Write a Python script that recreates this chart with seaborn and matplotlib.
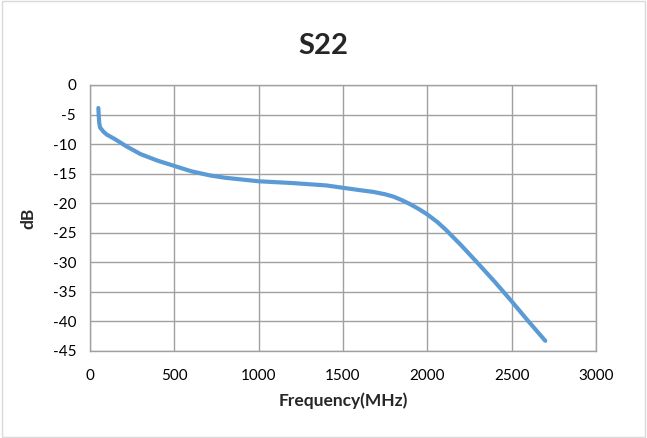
import matplotlib
matplotlib.use("Agg")
import matplotlib.pyplot as plt
import seaborn as sns
import pandas as pd
from matplotlib.patches import Rectangle

freq_mhz = [50, 52, 55, 60, 80, 100, 150, 217, 300, 400, 500, 600, 710, 800,
            1000, 1200, 1400, 1500, 1600, 1680, 1750, 1800, 1850, 1900, 1950,
            2000, 2060, 2110, 2200, 2288, 2400, 2500, 2600, 2700]
s22_db = [-3.9, -5.0, -6.4, -7.2, -7.9, -8.4, -9.2, -10.4, -11.7, -12.8, -13.7,
          -14.6, -15.3, -15.7, -16.3, -16.6, -17.0, -17.4, -17.8, -18.1, -18.5,
          -18.9, -19.5, -20.2, -21.0, -21.9, -23.2, -24.5, -27.1, -29.8, -33.3,
          -36.6, -40.0, -43.3]
x_ticks = [0, 500, 1000, 1500, 2000, 2500, 3000]
y_ticks = [0, -5, -10, -15, -20, -25, -30, -35, -40, -45]

df = pd.DataFrame({"Frequency(MHz)": freq_mhz, "dB": s22_db})

sns.set_theme(style="white")
plt.rcParams['font.family'] = ['Lato', 'DejaVu Sans']

fig = plt.figure(figsize=(6.47, 4.38), dpi=100)
ax = fig.add_axes([0.139, 0.199, 0.782, 0.607])

sns.lineplot(data=df, x="Frequency(MHz)", y="dB", sort=False, ax=ax,
             color="#5B9BD5", linewidth=3.0, solid_capstyle="round",
             solid_joinstyle="round")

ax.set_xlim(0, 3000)
ax.set_ylim(-45, 0)
ax.set_xticks(x_ticks)
ax.set_yticks(y_ticks)
ax.set_xticklabels([str(t) for t in x_ticks])
ax.set_yticklabels([str(t) for t in y_ticks])
ax.grid(True, color="#A0A0A0", linewidth=1.0)
ax.set_axisbelow(True)
for s in ax.spines.values():
    s.set_color("#A0A0A0")
    s.set_linewidth(1.0)
ax.tick_params(axis="both", which="major", labelsize=11, colors="#000000",
               length=4, width=1.0, direction="out", color="#A0A0A0")
ax.tick_params(axis="y", length=4, pad=6)
ax.tick_params(axis="x", pad=9)
ax.set_xlabel("Frequency(MHz)", fontsize=12.5, fontweight="bold", labelpad=7)
ax.set_ylabel("dB", fontsize=12.5, fontweight="bold", labelpad=12)

fig.text(0.5, 0.895, "S22", ha="center", va="center", fontsize=21, fontweight="bold")

fig.patches.append(Rectangle((0.003, 0.003), 0.994, 0.994, transform=fig.transFigure,
                             fill=False, edgecolor="#D9D9D9", linewidth=1.0))

fig.savefig("out.png", dpi=100)
